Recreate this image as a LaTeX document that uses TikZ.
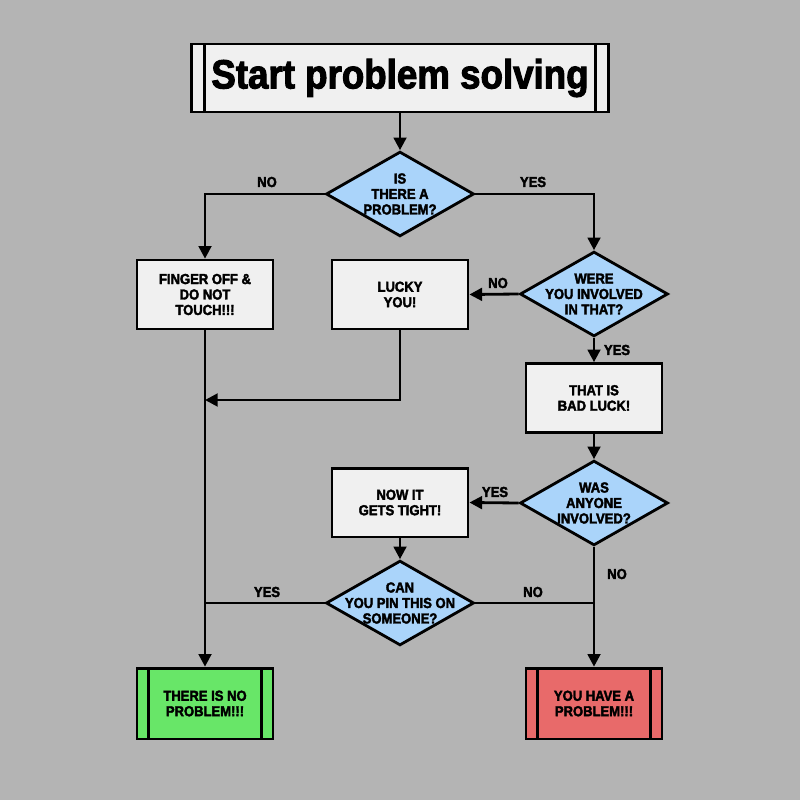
\documentclass[tikz,border=0pt]{standalone}
\usepackage{fontspec}
\setmainfont{Liberation Sans}
\newfontfamily\heavy{Liberation Sans Bold}[FakeStretch=0.9,FakeBold=2.5]
\usepackage{xcolor}
\usetikzlibrary{arrows.meta, positioning, shapes.geometric}

\definecolor{bggray}{RGB}{180,180,180}
\definecolor{boxfill}{RGB}{240,240,240}
\definecolor{qblue}{RGB}{170,212,250}
\definecolor{yesgreen}{RGB}{104,230,104}
\definecolor{nored}{RGB}{232,106,106}

\tikzset{
  box/.style={draw, line width=2pt, fill=boxfill, minimum width=3.4cm,
    minimum height=1.72cm, align=center, inner sep=0pt,
    font=\heavy\fontsize{10.3}{11}\selectfont},
  question/.style={diamond, draw, line width=2pt, fill=qblue, aspect=1.74,
    minimum width=3.7cm, minimum height=2.12cm, inner xsep=-14pt,
    inner ysep=-6pt, align=center,
    font=\heavy\fontsize{10.3}{11}\selectfont},
  endbars/.style={path picture={
    \draw[line width=2pt] ([xshift=#1]path picture bounding box.north west)
      -- ([xshift=#1]path picture bounding box.south west);
    \draw[line width=2pt] ([xshift=-#1]path picture bounding box.north east)
      -- ([xshift=-#1]path picture bounding box.south east);}},
  lbl/.style={font=\heavy\fontsize{10.3}{11}\selectfont, inner sep=0pt},
  arr/.style={line width=2pt, -{Triangle[length=9pt,width=9pt]}},
  wire/.style={line width=2pt}
}

\begin{document}
\begin{tikzpicture}[x=0.025cm, y=-0.025cm]
  % background
  \fill[bggray] (0,0) rectangle (800,800);
  \useasboundingbox (0,0) rectangle (800,800);
  % title
  \node[box, endbars=0.33cm, minimum width=10.42cm, minimum height=1.7cm,
    font=\heavy\fontsize{29}{32}\selectfont] (start) at (400,78) {Start problem solving};
  % questions
  \node[question] (q1) at (400,194) {IS\\THERE A\\PROBLEM?};
  \node[question] (q2) at (594,294) {WERE\\YOU INVOLVED\\IN THAT?};
  \node[question] (q3) at (594,503) {WAS\\ANYONE\\INVOLVED?};
  \node[question] (q4) at (400,603) {CAN\\YOU PIN THIS ON\\SOMEONE?};
  % plain boxes
  \node[box] (finger) at (205,294.5) {FINGER OFF \&\\DO NOT\\TOUCH!!!};
  \node[box] (lucky) at (400,294.5) {LUCKY\\YOU!};
  \node[box] (bad) at (594,398) {THAT IS\\BAD LUCK!};
  \node[box] (tight) at (400,502.5) {NOW IT\\GETS TIGHT!};
  % end boxes
  \node[box, endbars=0.28cm, fill=yesgreen, minimum height=1.77cm] (noprob) at (205,703.5) {THERE IS NO\\PROBLEM!!!};
  \node[box, endbars=0.28cm, fill=nored, minimum height=1.77cm] (prob) at (594,703.5) {YOU HAVE A\\PROBLEM!!!};
  \coordinate (merge) at (205,400);
  % connectors
  \draw[arr] (start) -- (q1);
  \draw[arr] (q1.west) -| (finger.north);
  \draw[arr] (q1.east) -| (q2.north);
  \draw[arr] (q2.west) -- (lucky.east);
  \draw[arr] (q2.south) -- (bad.north);
  \draw[arr] (lucky.south) |- (merge);
  \draw[arr] (finger.south) -- (noprob.north);
  \draw[arr] (bad.south) -- (q3.north);
  \draw[arr] (q3.west) -- (tight.east);
  \draw[arr] (tight.south) -- (q4.north);
  \draw[wire] (q4.west) -- (q4.west -| finger.south);
  \draw[wire] (q4.east) -- (q4.east -| q3.south);
  \draw[arr] (q3.south) -- (prob.north);
  % branch labels
  \node[lbl] (l1) at (267,182) {NO};
  \node[lbl] (l2) at (533,182) {YES};
  \node[lbl] (l3) at (498,283) {NO};
  \node[lbl] (l4) at (617,350) {YES};
  \node[lbl] (l5) at (495,492) {YES};
  \node[lbl] (l6) at (617,574) {NO};
  \node[lbl] (l7) at (267,592) {YES};
  \node[lbl] (l8) at (533,592) {NO};
\end{tikzpicture}
\end{document}
